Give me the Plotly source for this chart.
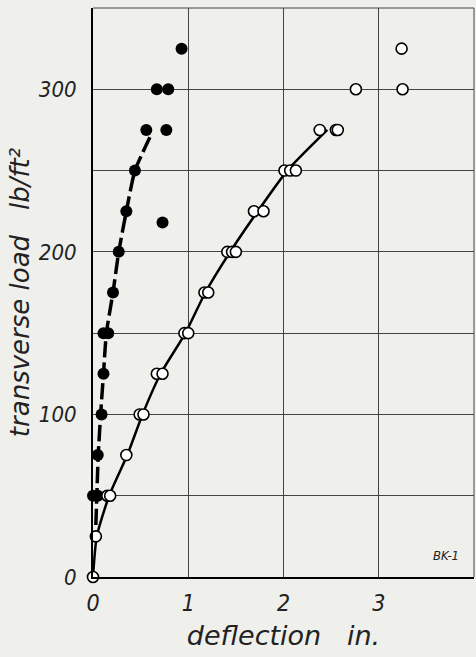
import plotly.graph_objects as go

# Filled (black) points
filled_x = [0.0, 0.05, 0.05, 0.09, 0.11, 0.11, 0.16, 0.21, 0.27, 0.35, 0.73, 0.44, 0.56, 0.77, 0.67, 0.79, 0.93]
filled_y = [50, 50, 75, 100, 125, 150, 150, 175, 200, 225, 218, 250, 275, 275, 300, 300, 325]

# Open (white) points
open_x = [0.0, -0.03, 0.03, 0.15, 0.18, 0.35, 0.49, 0.53, 0.67, 0.73, 0.96, 1.0, 1.17, 1.21,
          1.41, 1.46, 1.50, 1.69, 1.79, 2.01, 2.07, 2.13, 2.38, 2.55, 2.57, 2.76, 3.25, 3.24]
open_y = [0, 25, 25, 50, 50, 75, 100, 100, 125, 125, 150, 150, 175, 175,
          200, 200, 200, 225, 225, 250, 250, 250, 275, 275, 275, 300, 300, 325]

# Fitted curves
fit_open_x = [0, 0.04, 0.17, 0.36, 0.52, 0.71, 0.97, 1.18, 1.44, 1.73, 2.04, 2.46]
fit_open_y = [0, 25, 50, 75, 100, 125, 150, 175, 200, 225, 250, 275]
fit_filled_x = [0.03, 0.04, 0.055, 0.08, 0.11, 0.14, 0.21, 0.27, 0.35, 0.44, 0.61]
fit_filled_y = [32, 50, 75, 100, 125, 150, 175, 200, 225, 250, 272]

x_ticks = [0, 1, 2, 3]
y_ticks = [0, 100, 200, 300]

NARROW = "DejaVu Sans Condensed, sans-serif"
TITLEF = "DejaVu Sans, sans-serif"
BG = "#efefec"
INK = "#222"

fig = go.Figure()
fig.add_trace(go.Scatter(x=fit_open_x, y=fit_open_y, mode="lines",
                         line=dict(color="black", width=2.5, shape="spline", smoothing=0.6),
                         hoverinfo="skip", showlegend=False))
fig.add_trace(go.Scatter(x=fit_filled_x, y=fit_filled_y, mode="lines",
                         line=dict(color="black", width=3.5, shape="spline", smoothing=0.5, dash="16px,5px"),
                         hoverinfo="skip", showlegend=False))
fig.add_trace(go.Scatter(x=filled_x, y=filled_y, mode="markers",
                         marker=dict(color="black", size=12, line=dict(color="black", width=0)),
                         cliponaxis=False, showlegend=False))
fig.add_trace(go.Scatter(x=open_x, y=open_y, mode="markers",
                         marker=dict(color="white", size=11, line=dict(color="black", width=1.6)),
                         cliponaxis=False, showlegend=False))

fig.add_annotation(x=3.71, y=13, text="BK-1", showarrow=False, xref="x", yref="y",
                   font=dict(family=NARROW, size=13, color=INK, style="italic"))

fig.update_layout(
    width=476, height=657,
    margin=dict(l=93, r=2, t=8, b=80),
    paper_bgcolor=BG, plot_bgcolor=BG,
    font=dict(family=NARROW, color=INK, style="italic"),
    xaxis=dict(range=[0, 4], tickvals=x_ticks, ticktext=[str(v) for v in x_ticks],
               automargin=False,
               showgrid=True, gridcolor="#444", gridwidth=1, zeroline=False,
               showline=True, linecolor="black", linewidth=2, mirror=False,
               ticks="outside", ticklen=4, tickcolor="rgba(0,0,0,0)",
               tickfont=dict(size=23, family=NARROW, style="italic", color=INK),
               title=dict(text="deflection   in.", font=dict(size=27, family=TITLEF, style="italic", color=INK), standoff=12),
               minor=dict(dtick=1, showgrid=True, gridcolor="#444", gridwidth=1)),
    yaxis=dict(range=[0, 350], tickvals=y_ticks, ticktext=[str(v) for v in y_ticks],
               automargin=False,
               showgrid=True, gridcolor="#444", gridwidth=1, zeroline=False,
               showline=True, linecolor="black", linewidth=2, mirror=False,
               ticks="outside", ticklen=10, tickcolor="rgba(0,0,0,0)",
               tickfont=dict(size=22, family=NARROW, style="italic", color=INK),
               title=dict(text="transverse load   lb/ft²", font=dict(size=26, family=TITLEF, style="italic", color=INK), standoff=2),
               minor=dict(dtick=50, showgrid=True, gridcolor="#444", gridwidth=1)),
)

# thin top/right frame
fig.add_shape(type="line", xref="paper", yref="paper", x0=0, x1=1, y0=1, y1=1,
              line=dict(color="#444", width=1))
fig.add_shape(type="line", xref="paper", yref="paper", x0=1, x1=1, y0=0, y1=1,
              line=dict(color="#444", width=1))

fig.write_html("out.html", config={"displayModeBar": False},
               post_script="document.body.style.margin='0';document.body.style.padding='0';")
